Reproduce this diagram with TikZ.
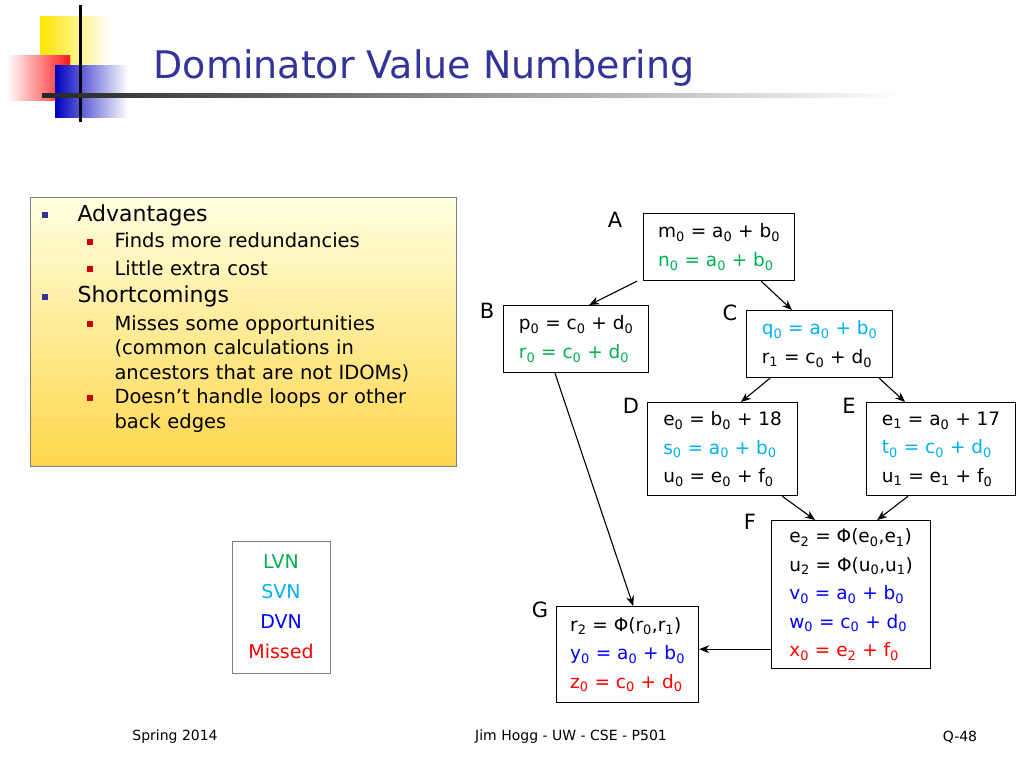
\documentclass[tikz,border=0pt]{standalone}
\usepackage{fontspec}
\setmainfont{DejaVu Sans}
\usetikzlibrary{arrows.meta}
\definecolor{titleblue}{RGB}{51,51,153}
\definecolor{lvn}{RGB}{0,176,80}
\definecolor{svn}{RGB}{0,176,240}
\definecolor{dvn}{RGB}{0,0,255}
\definecolor{mis}{RGB}{255,0,0}
\tikzset{
  blk/.style={draw,line width=1.2pt,inner sep=3pt,align=left,anchor=north west,font=\fontsize{18.5}{28.5}\selectfont},
  lab/.style={font=\fontsize{21}{24}\selectfont},
  edge/.style={line width=1.1pt,-{Stealth[length=10pt,width=8pt]}}
}
\newcommand{\s}[1]{$_{\mathrm{#1}}$}
\newcommand{\bul}[1]{\textcolor{#1}{\rule[3pt]{6pt}{6pt}}}
\begin{document}
\begin{tikzpicture}[x=1pt,y=-1pt]
    \useasboundingbox (0,0) rectangle (1024,768);
    % logo
    \shade[left color=yellow!80!orange,right color=white] (40,17) rectangle (110,75);
    \shade[left color=white,right color=red!90] (7,56) rectangle (70,100);
    \shade[left color=blue!75!black,right color=white] (55,65) rectangle (128,117);
    \draw[line width=3pt] (80,5) -- (80,122);
    \shade[left color=black!85,right color=white] (42,93) rectangle (900,97);
    \node[anchor=west,text=titleblue,font=\fontsize{38}{42}\selectfont] (title) at (150,68) {Dominator Value Numbering};

    % text box
    \shade[top color=yellow!12,bottom color=yellow!55!orange!70,draw=gray] (30,197) rectangle (456,466);
    \node[anchor=north west,align=left,font=\fontsize{19.5}{24.5}\selectfont,text width=410pt] (adv) at (38,201) {%
      \bul{titleblue}\hspace{30pt}{\fontsize{22}{24}\selectfont Advantages}\\[2pt]
      \hspace{45pt}\bul{mis!80!black}\hspace{22pt}Finds more redundancies\\[3pt]
      \hspace{45pt}\bul{mis!80!black}\hspace{22pt}Little extra cost\\[3pt]
      \bul{titleblue}\hspace{30pt}{\fontsize{22}{24}\selectfont Shortcomings}\\[3pt]
      \hspace{45pt}\bul{mis!80!black}\hspace{22pt}Misses some opportunities\\
      \hspace{73pt}(common calculations in\\
      \hspace{73pt}ancestors that are not IDOMs)\\
      \hspace{45pt}\bul{mis!80!black}\hspace{22pt}Doesn’t handle loops or other\\
      \hspace{73pt}back edges};

    % blocks
    \node[blk,minimum width=151pt,minimum height=67pt] (A) at (643,213) {m\s0 = a\s0 + b\s0\\ \textcolor{lvn}{n\s0 = a\s0 + b\s0}};
    \node[blk,minimum width=145pt,minimum height=67pt] (B) at (503,305) {p\s0 = c\s0 + d\s0\\ \textcolor{lvn}{r\s0 = c\s0 + d\s0}};
    \node[blk,minimum width=146pt,minimum height=67pt] (C) at (746,310) {\textcolor{svn}{q\s0 = a\s0 + b\s0}\\ r\s1 = c\s0 + d\s0};
    \node[blk,minimum width=150pt,minimum height=93pt] (D) at (647,402) {e\s0 = b\s0 + 18\\ \textcolor{svn}{s\s0 = a\s0 + b\s0}\\ u\s0 = e\s0 + f\s0};
    \node[blk,minimum width=149pt,minimum height=93pt] (E) at (866,402) {e\s1 = a\s0 + 17\\ \textcolor{svn}{t\s0 = c\s0 + d\s0}\\ u\s1 = e\s1 + f\s0};
    \node[blk,minimum width=159pt,minimum height=148pt] (F) at (771,520) {e\s2 = Φ(e\s0,e\s1)\\ u\s2 = Φ(u\s0,u\s1)\\ \textcolor{dvn}{v\s0 = a\s0 + b\s0}\\ \textcolor{dvn}{w\s0 = c\s0 + d\s0}\\ \textcolor{mis}{x\s0 = e\s2 + f\s0}};
    \node[blk,minimum width=142pt,minimum height=96pt] (G) at (556,606) {r\s2 = Φ(r\s0,r\s1)\\ \textcolor{dvn}{y\s0 = a\s0 + b\s0}\\ \textcolor{mis}{z\s0 = c\s0 + d\s0}};

    \node[lab] (la) at (615,220) {A};
    \node[lab] (lb) at (487,311) {B};
    \node[lab] (lc) at (730,313) {C};
    \node[lab] (ld) at (631,406) {D};
    \node[lab] (le) at (849,406) {E};
    \node[lab] (lf) at (750,522) {F};
    \node[lab] (lg) at (540,610) {G};

    \draw[edge] ([xshift=-6pt]A.south west) -- ([xshift=-60pt]B.north east);
    \draw[edge] ([xshift=-34pt]A.south east) -- ([xshift=46pt]C.north west);
    \draw[edge] ([xshift=24pt]C.south west) -- ([xshift=94pt]D.north west);
    \draw[edge] ([xshift=-14pt]C.south east) -- ([xshift=39pt]E.north west);
    \draw[edge] ([xshift=-16pt]D.south east) -- ([xshift=44pt]F.north west);
    \draw[edge] ([xshift=42pt]E.south west) -- ([xshift=-54pt]F.north east);
    \draw[edge] ([xshift=52pt]B.south west) -- ([xshift=-66pt]G.north east);
    \draw[edge] ([yshift=20pt]F.south west) -- ([yshift=54pt]G.south east);

    % legend
    \node[draw=gray,align=center,font=\fontsize{19}{30}\selectfont,minimum width=98pt,minimum height=132pt] (leg) at (281,607)
      {\textcolor{lvn}{LVN}\\ \textcolor{svn}{SVN}\\ \textcolor{dvn}{DVN}\\ \textcolor{mis}{Missed}};

    % footer
    \node[font=\fontsize{14}{16}\selectfont] (f1) at (175,737) {Spring 2014};
    \node[font=\fontsize{14}{16}\selectfont] (f2) at (571,737) {Jim Hogg - UW - CSE - P501};
    \node[font=\fontsize{14}{16}\selectfont] (f3) at (960,737) {Q-48};
\end{tikzpicture}
\end{document}
